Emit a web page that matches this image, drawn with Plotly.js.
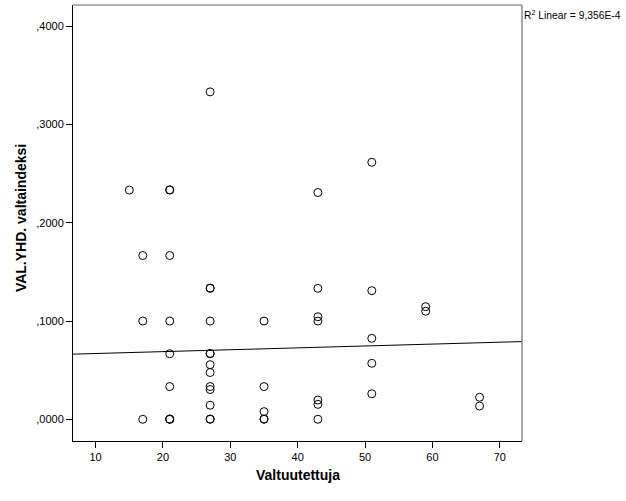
<!DOCTYPE html>
<html>
<head>
<meta charset="utf-8">
<script src="https://cdn.plot.ly/plotly-3.0.1.min.js"></script>
<style>html,body{margin:0;padding:0;background:#fff;}#chart{width:626px;height:501px;}</style>
</head>
<body>
<div id="chart"></div>
<script>
// Data
const valtuutettuja = [
  15,
  17, 17, 17,
  21, 21, 21, 21, 21, 21, 21, 21, 21,
  27, 27, 27, 27, 27, 27, 27, 27, 27, 27, 27, 27, 27,
  35, 35, 35, 35, 35,
  43, 43, 43, 43, 43, 43, 43,
  51, 51, 51, 51, 51,
  59, 59,
  67, 67
];
const valtaindeksi = [
  0.2333,
  0.1667, 0.1000, 0.0000,
  0.2333, 0.2336, 0.1667, 0.1000, 0.0667, 0.0333, 0.0000, 0.0003, 0.0000,
  0.3333, 0.1333, 0.1336, 0.1000, 0.0667, 0.0670, 0.0556, 0.0476, 0.0333, 0.0303, 0.0143, 0.0000, 0.0003,
  0.1000, 0.0333, 0.0078, 0.0000, 0.0003,
  0.2308, 0.1333, 0.1044, 0.1000, 0.0196, 0.0152, 0.0000,
  0.2616, 0.1309, 0.0824, 0.0570, 0.0260,
  0.1146, 0.1100,
  0.0224, 0.0135
];
// Fit line (R2 Linear) end points
const fitX = [6.64, 73.3];
const fitY = [0.0663, 0.0791];
const yTickVals = [0, 0.1, 0.2, 0.3, 0.4];
const yTickText = [",0000", ",1000", ",2000", ",3000", ",4000"];
const xTickVals = [10, 20, 30, 40, 50, 60, 70];
const xTickText = ["10", "20", "30", "40", "50", "60", "70"];
const r2Label = "R<sup>2</sup> Linear = 9,356E-4";
const xTitle = "Valtuutettuja";
const yTitle = "VAL.YHD. valtaindeksi";

const font = "Liberation Sans, Arial, sans-serif";

const traces = [
  {
    x: fitX, y: fitY, type: "scatter", mode: "lines",
    line: {color: "#000000", width: 1}, hoverinfo: "skip", showlegend: false, cliponaxis: true
  },
  {
    x: valtuutettuja, y: valtaindeksi, type: "scatter", mode: "markers",
    marker: {symbol: "circle-open", size: 8, color: "#000000", line: {width: 1, color: "#000000"}},
    showlegend: false, cliponaxis: false
  }
];

const layout = {
  width: 626, height: 501,
  margin: {l: 73, r: 104, t: 5, b: 60, pad: 0},
  paper_bgcolor: "#ffffff", plot_bgcolor: "#ffffff",
  font: {family: font, size: 11, color: "#000000"},
  showlegend: false,
  xaxis: {
    range: [6.64, 73.3], tickvals: xTickVals, ticktext: xTickText,
    ticks: "outside", ticklen: 6, tickwidth: 1, tickcolor: "#000000",
    showgrid: false, zeroline: false, showline: true, linecolor: "#000000", linewidth: 1, mirror: false,
    tickfont: {family: font, size: 11, color: "#000000"}
  },
  yaxis: {
    range: [-0.0221, 0.4217], tickvals: yTickVals, ticktext: yTickText,
    ticks: "outside", ticklen: 6, tickwidth: 1, tickcolor: "#000000",
    showgrid: false, zeroline: false, showline: true, linecolor: "#000000", linewidth: 1, mirror: false,
    tickfont: {family: font, size: 11, color: "#000000"}
  },
  shapes: [
    {type: "line", xref: "paper", yref: "paper", x0: 0, x1: 1, y0: 1, y1: 1, line: {color: "#666666", width: 1}},
    {type: "line", xref: "paper", yref: "paper", x0: 1, x1: 1, y0: 0, y1: 1, line: {color: "#888888", width: 1.5}}
  ],
  annotations: [
    {text: r2Label, xref: "paper", yref: "paper", x: 0.999, y: 0.979, xanchor: "left", yanchor: "middle",
     showarrow: false, font: {family: font, size: 10.3, color: "#000000"}},
    {text: "<b>" + xTitle + "</b>", xref: "paper", yref: "paper", x: 0.5, y: -0.078, xanchor: "center", yanchor: "middle",
     showarrow: false, font: {family: font, size: 14, color: "#000000"}},
    {text: "<b>" + yTitle + "</b>", xref: "paper", yref: "paper", x: -0.116, y: 0.511, xanchor: "center", yanchor: "middle",
     textangle: -90, showarrow: false, font: {family: font, size: 14, color: "#000000"}}
  ]
};

Plotly.newPlot("chart", traces, layout, {displayModeBar: false, staticPlot: true});
</script>
</body>
</html>
